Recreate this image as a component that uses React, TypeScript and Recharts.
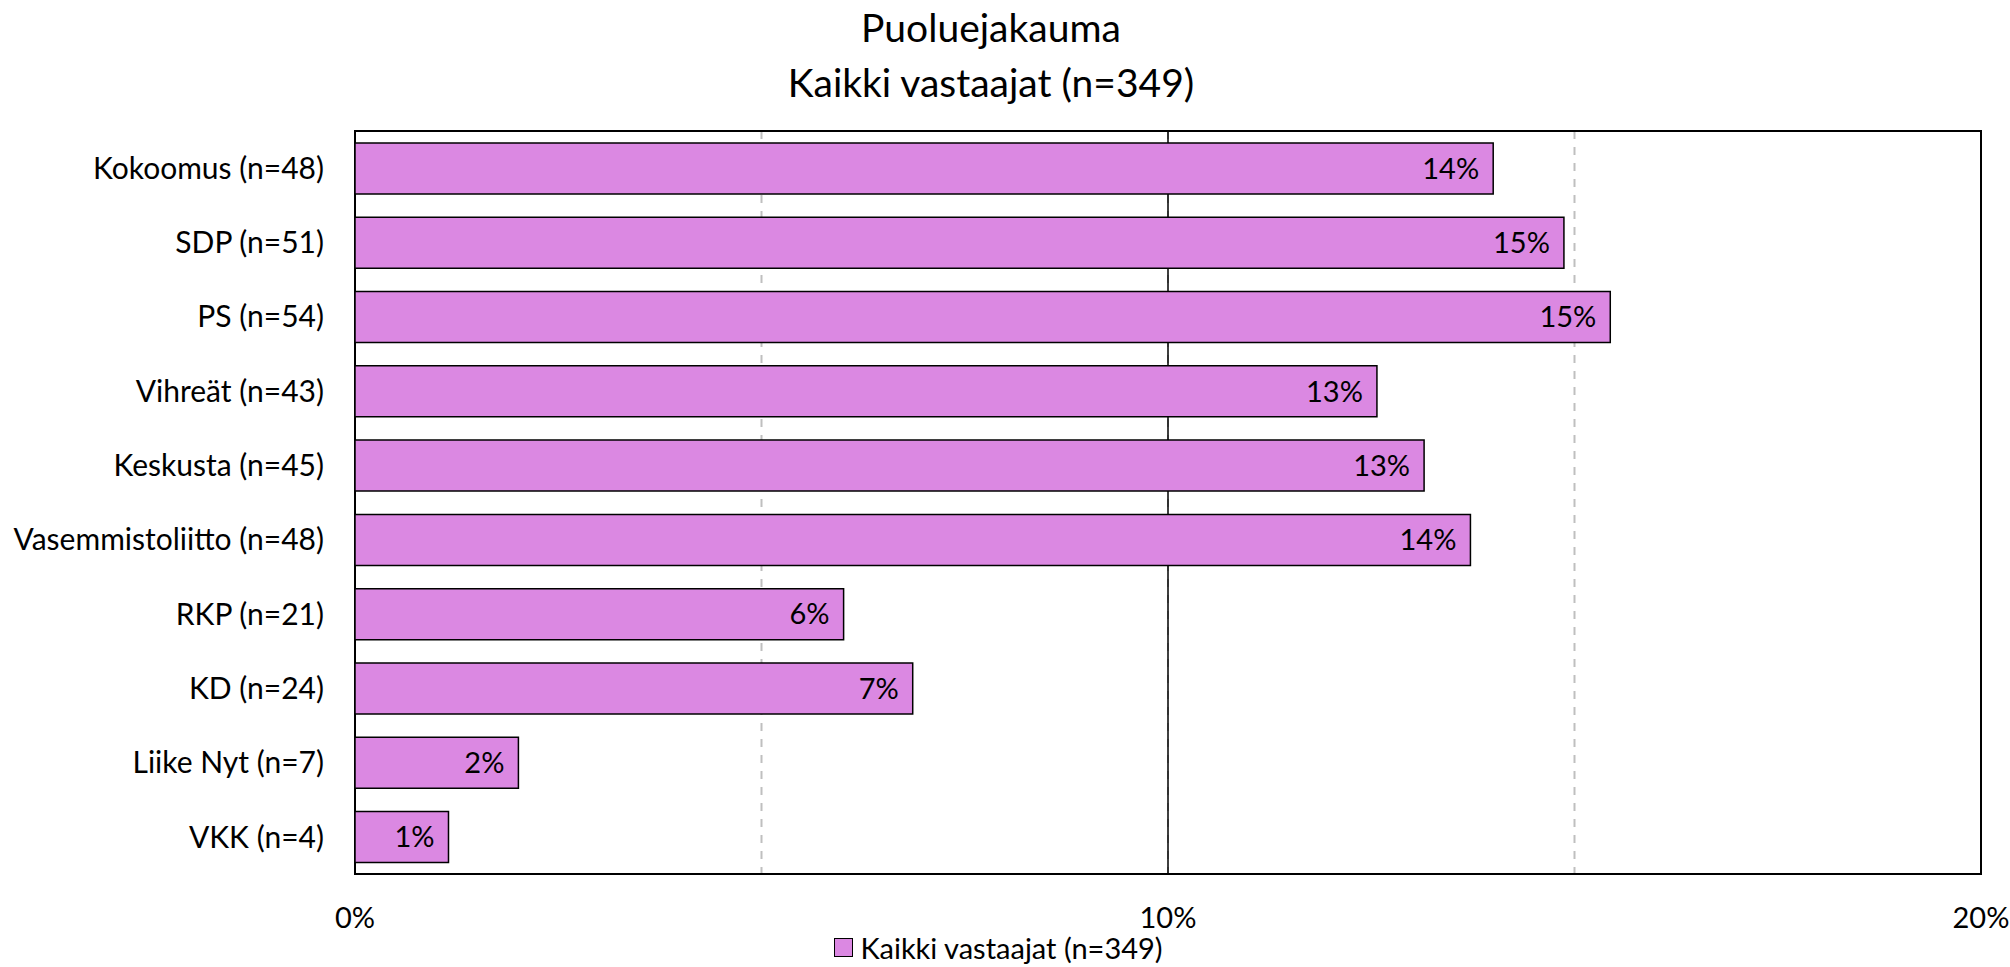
import { Bar, BarChart, CartesianGrid, LabelList, Legend, ReferenceArea, ReferenceLine, XAxis, YAxis } from "recharts";

const parties = [
	"Kokoomus (n=48)",
	"SDP (n=51)",
	"PS (n=54)",
	"Vihreät (n=43)",
	"Keskusta (n=45)",
	"Vasemmistoliitto (n=48)",
	"RKP (n=21)",
	"KD (n=24)",
	"Liike Nyt (n=7)",
	"VKK (n=4)",
];
const shares = [14.0, 14.87, 15.44, 12.57, 13.15, 13.72, 6.01, 6.86, 2.01, 1.15];
const gridTicks = [0, 5, 10, 15, 20];
const labelledTicks = [0, 10, 20];
const seriesName = "Kaikki vastaajat (n=349)";

const data = parties.map((name, i) => ({ name, value: shares[i] }));

const FONT = "Lato, 'Open Sans', sans-serif";
const FILL = "#DB88E2";

const LegendBox = () => (
	<div style={{ display: "flex", justifyContent: "center", alignItems: "center", fontFamily: FONT, fontSize: 29, color: "#000", paddingLeft: 16 }}>
		<span style={{ width: 17, height: 17, background: FILL, border: "1.5px solid #000", marginRight: 7, display: "inline-block" }} />
		<span>{seriesName}</span>
	</div>
);

const App = () => {
	return (
		<div style={{ position: "relative", width: 2010, height: 967, fontFamily: FONT }}>
			<style>{"body{margin:0}"}</style>
			<div style={{ position: "absolute", top: 0, left: -14, width: 2010, textAlign: "center", fontSize: 39, lineHeight: "55px", color: "#000" }}>
				<div>Puoluejakauma</div>
				<div>Kaikki vastaajat (n=349)</div>
			</div>
			<BarChart
				width={2010}
				height={967}
				data={data}
				layout="vertical"
				barCategoryGap="16%"
				margin={{ top: 131, right: 29, left: 0, bottom: 0 }}
			>
				<XAxis
					type="number"
					domain={[0, 20]}
					ticks={gridTicks}
					interval={0}
					tickFormatter={(v) => (labelledTicks.includes(v) ? `${v}%` : "")}
					height={56}
					tickSize={0}
					tickMargin={33}
					axisLine={false}
					tick={{ fill: "#000", fontSize: 29, fontFamily: FONT }}
				/>
				<YAxis
					type="category"
					dataKey="name"
					width={355}
					tickSize={0}
					tickMargin={31}
					axisLine={false}
					tick={{ fill: "#000", fontSize: 30, fontFamily: FONT }}
				/>
				<CartesianGrid horizontal={false} stroke="#BFBFBF" strokeWidth={2} strokeDasharray="8 8" />
				<ReferenceLine x={10} stroke="#000" strokeWidth={1.5} zIndex={-1} />
				<Legend verticalAlign="bottom" height={37} content={() => <LegendBox />} />
				<Bar dataKey="value" name={seriesName} fill={FILL} stroke="#000" strokeWidth={1.5} isAnimationActive={false}>
					<LabelList
						dataKey="value"
						position="insideRight"
						offset={14}
						formatter={(v: number) => `${Math.round(v)}%`}
						style={{ fill: "#000", fontSize: 29, fontFamily: FONT }}
					/>
				</Bar>
				<ReferenceArea x1={0} x2={20} fill="none" stroke="#000" strokeWidth={2} ifOverflow="extendDomain" />
			</BarChart>
		</div>
	);
};

export default App;
